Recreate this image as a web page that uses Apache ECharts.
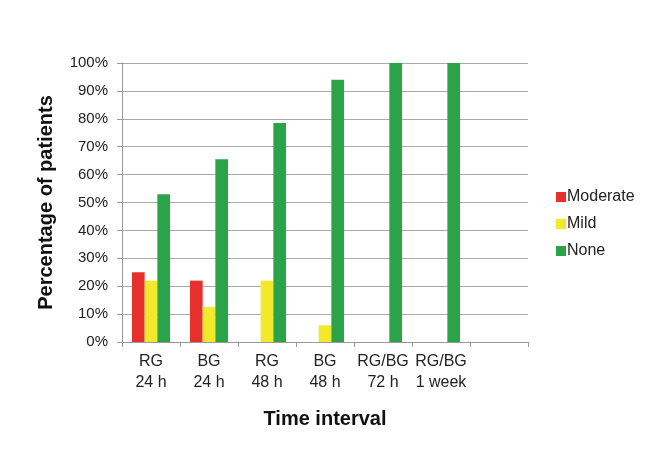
<html>
<head>
<meta charset="utf-8">
<script src="https://cdn.jsdelivr.net/npm/echarts@6/dist/echarts.min.js"></script>
<style>
  html, body { margin: 0; padding: 0; background: #fff; }
  #chart1 { width: 653px; height: 462px; }
</style>
</head>
<body>
<div id="chart1"></div>
<script>
  // data
  let categories = ['RG\n24 h', 'BG\n24 h', 'RG\n48 h', 'BG\n48 h', 'RG/BG\n72 h', 'RG/BG\n1 week', ''];
  let moderate = [25, 22, 0, 0, 0, 0, null];
  let mild = [22, 12.5, 22, 6, 0, 0, null];
  let none = [53, 65.5, 78.5, 94, 100, 100, null];
  let yTicks = [0, 10, 20, 30, 40, 50, 60, 70, 80, 90, 100];

  let font = '"Liberation Sans", Arial, sans-serif';

  function bar(name, values, color) {
    return {
      name: name,
      type: 'bar',
      data: values,
      barWidth: 12.7,
      barGap: '0%',
      itemStyle: { color: color }
    };
  }

  let myChart = echarts.init(document.getElementById('chart1'));
  let option = {
    animation: false,
    grid: { left: 122, right: 125, top: 63, bottom: 120, containLabel: false },
    legend: {
      orient: 'vertical',
      left: 551,
      top: 184,
      itemWidth: 10,
      itemHeight: 10,
      itemGap: 11,
      icon: 'rect',
      textStyle: { fontFamily: font, fontSize: 16, color: '#222', padding: [0, 0, 0, -4] },
      data: ['Moderate', 'Mild', 'None']
    },
    xAxis: {
      type: 'category',
      data: categories,
      name: 'Time interval',
      nameLocation: 'middle',
      nameGap: 67,
      nameTextStyle: { fontFamily: font, fontSize: 20, fontWeight: 'bold', color: '#111' },
      axisLine: { lineStyle: { color: '#999', width: 1 } },
      axisTick: { show: true, length: 5, lineStyle: { color: '#999' } },
      axisLabel: { interval: 0, margin: 9, fontFamily: font, fontSize: 16, color: '#222', lineHeight: 21 }
    },
    yAxis: {
      type: 'value',
      min: 0,
      max: 100,
      interval: 10,
      name: 'Percentage of patients',
      nameLocation: 'middle',
      nameGap: 66,
      nameTextStyle: { fontFamily: font, fontSize: 20, fontWeight: 'bold', color: '#111' },
      axisLine: { show: true, lineStyle: { color: '#999', width: 1 } },
      axisTick: { show: true, length: 5, lineStyle: { color: '#999' } },
      splitLine: { lineStyle: { color: '#aaa', width: 1 } },
      axisLabel: {
        margin: 14,
        fontFamily: font,
        fontSize: 15,
        color: '#222',
        formatter: function (v) { return yTicks.indexOf(v) >= 0 ? v + '%' : ''; }
      }
    },
    series: [
      bar('Moderate', moderate, '#E5302B'),
      bar('Mild', mild, '#F3E92C'),
      bar('None', none, '#2BA349')
    ]
  };
  myChart.setOption(option);
</script>
</body>
</html>
